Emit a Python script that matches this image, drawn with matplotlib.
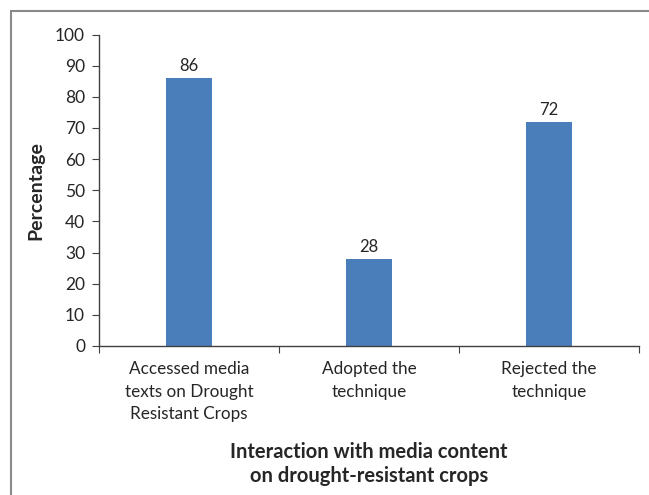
import matplotlib
matplotlib.use("Agg")
import matplotlib.pyplot as plt
from matplotlib.patches import Rectangle

categories = ["Accessed media\ntexts on Drought\nResistant Crops",
              "Adopted the\ntechnique",
              "Rejected the\ntechnique"]
values = [86, 28, 72]
yticks = list(range(0, 101, 10))

plt.rcParams['font.family'] = ['Lato', 'DejaVu Sans']

W, H = 649, 495
fig = plt.figure(figsize=(W/100, H/100), dpi=100)
ax = fig.add_axes([99/W, 1-346/H, (639-99)/W, (346-34.5)/H])

x = list(range(len(categories)))
bars = ax.bar(x, values, width=0.255, color='#4A7EBB', zorder=2)
for xi, v in zip(x, values):
    ax.annotate(f"{v}", (xi, v), xytext=(0, 3), textcoords='offset points',
                ha='center', va='bottom', fontsize=12, color='#262626')

ax.set_xlim(-0.5, len(categories)-0.5)
ax.set_ylim(0, 100)
ax.set_yticks(yticks)
ax.set_xticks([i - 0.5 for i in range(len(categories)+1)])
ax.set_xticklabels([])
ax.set_xticks(x, minor=True)
ax.set_xticklabels(categories, minor=True, fontsize=12.3, color='#262626', linespacing=1.48)
ax.tick_params(axis='x', which='major', direction='out', length=5, color='#404040')
ax.tick_params(axis='x', which='minor', length=0, pad=11)
ax.tick_params(axis='y', direction='out', length=5, color='#404040', labelsize=12.5,
               labelcolor='#262626', pad=5)

for s in ['top', 'right']:
    ax.spines[s].set_visible(False)
for s in ['left', 'bottom']:
    ax.spines[s].set_color('#404040')
    ax.spines[s].set_linewidth(1.0)

ax.set_ylabel("Percentage", fontsize=14, fontweight='bold', color='#262626', labelpad=8)
fig.text(369/W, 1-464/H, "Interaction with media content\non drought-resistant crops",
         ha='center', va='center', fontsize=14.5, fontweight='bold', color='#262626',
         linespacing=1.25)

border = Rectangle((11/W, -0.2), 1.5, 1.2 - 11/H, transform=fig.transFigure,
                   fill=False, edgecolor='#8a8a8a', linewidth=1.5)
fig.patches.append(border)

fig.savefig("out.png", dpi=100)
